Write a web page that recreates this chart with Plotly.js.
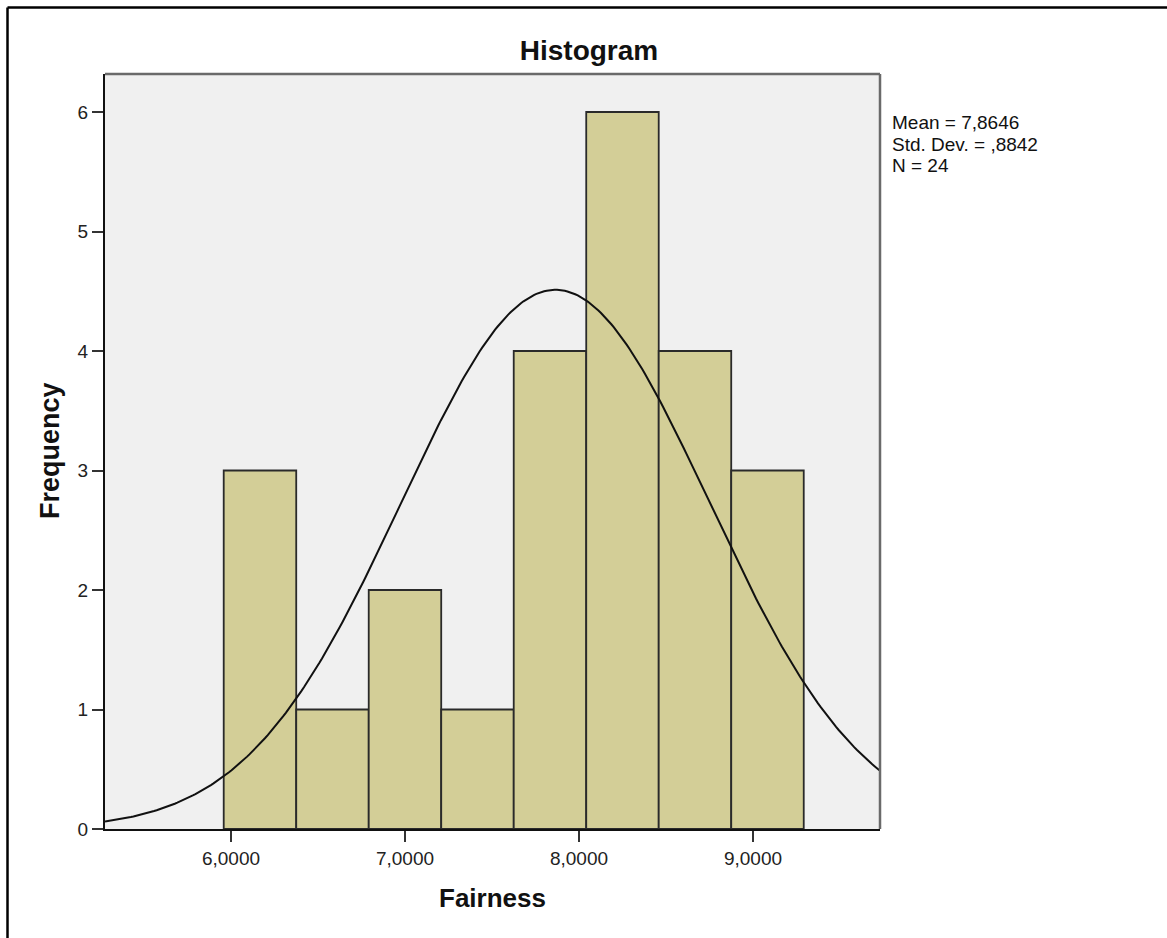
<!DOCTYPE html>
<html>
<head>
<meta charset="utf-8">
<script src="https://cdn.plot.ly/plotly-3.0.1.min.js"></script>
<style>
  html, body { margin: 0; padding: 0; background: #ffffff; }
  #chart { width: 1167px; height: 938px; }
</style>
</head>
<body>
<div id="chart"></div>
<script>
// ---- data ----
const binEdges = [5.9583, 6.3750, 6.7917, 7.2083, 7.6250, 8.0417, 8.4583, 8.8750, 9.2917];
const binCounts = [3, 1, 2, 1, 4, 6, 4, 3];
const xTickVals = [6, 7, 8, 9];
const xTickText = ["6,0000", "7,0000", "8,0000", "9,0000"];
const yTickVals = [0, 1, 2, 3, 4, 5, 6];
const statsMean = 7.8646;
const statsSD = 0.8842;
const statsN = 24;
const statsLines = ["Mean = 7,8646", "Std. Dev. = ,8842", "N = 24"];

// ---- build traces ----
const centers = [], widths = [];
for (let i = 0; i < binCounts.length; i++) {
  centers.push((binEdges[i] + binEdges[i + 1]) / 2);
  widths.push(binEdges[i + 1] - binEdges[i]);
}
const binWidth = (binEdges[binEdges.length - 1] - binEdges[0]) / binCounts.length;

const xRange = [5.276, 9.730];
const yRange = [0, 6.318];

// fitted normal curve (as drawn by the original): N * binWidth * pdf(mean, sd)
const curveX = [], curveY = [];
const steps = 300;
for (let k = 0; k <= steps; k++) {
  const x = xRange[0] + (xRange[1] - xRange[0]) * k / steps;
  const z = (x - statsMean) / statsSD;
  curveX.push(x);
  curveY.push(statsN * binWidth * Math.exp(-0.5 * z * z) / (statsSD * Math.sqrt(2 * Math.PI)));
}

const bars = {
  type: 'bar',
  x: centers,
  y: binCounts,
  width: widths,
  marker: { color: '#d3ce97', line: { color: '#2a2a2a', width: 1.8 } },
  hoverinfo: 'x+y',
  showlegend: false
};
const curve = {
  type: 'scatter',
  mode: 'lines',
  x: curveX,
  y: curveY,
  line: { color: '#111111', width: 2 },
  hoverinfo: 'skip',
  showlegend: false
};

// ---- layout (pixel geometry of the reference) ----
const W = 1167, H = 938;
const L = 105, R = 880, T = 74, B = 829;
const px = v => (v - L) / (R - L);
const py = v => (B - v) / (B - T);

const font = "Arial, 'Liberation Sans', sans-serif";

const annotations = [
  { text: '<b>Fairness</b>', xref: 'paper', yref: 'paper', x: px(492), y: py(898),
    xanchor: 'center', yanchor: 'middle', showarrow: false,
    font: { family: font, size: 26, color: '#111' } },
  { text: '<b>Frequency</b>', xref: 'paper', yref: 'paper', x: px(50), y: py(451),
    xanchor: 'center', yanchor: 'middle', showarrow: false, textangle: -90,
    font: { family: font, size: 27, color: '#111' } }
];
const statY = [123, 144, 165];
statsLines.forEach((t, i) => {
  annotations.push({ text: t, xref: 'paper', yref: 'paper', x: px(890), y: py(statY[i]),
    xanchor: 'left', yanchor: 'middle', showarrow: false,
    font: { family: font, size: 19, color: '#111' } });
});

const shapes = [
  // grey frame of the plot area (top and right)
  { type: 'line', xref: 'paper', yref: 'paper', x0: 0, x1: 1, y0: 1, y1: 1,
    line: { color: '#6a6a6a', width: 2.5 } },
  { type: 'line', xref: 'paper', yref: 'paper', x0: 1, x1: 1, y0: 0, y1: 1,
    line: { color: '#6a6a6a', width: 2.5 } },
  // outer page frame (left and top)
  { type: 'line', xref: 'paper', yref: 'paper', x0: px(7.5), x1: px(7.5), y0: py(H + 5), y1: py(7.5),
    line: { color: '#000', width: 2.5 } },
  { type: 'line', xref: 'paper', yref: 'paper', x0: px(7.5), x1: px(W + 5), y0: py(7.5), y1: py(7.5),
    line: { color: '#000', width: 2.5 } }
];

const layout = {
  width: W, height: H,
  margin: { l: L, r: W - R, t: T, b: H - B, pad: 0 },
  paper_bgcolor: '#ffffff',
  plot_bgcolor: '#f0f0f0',
  bargap: 0,
  title: { text: '<b>Histogram</b>', xref: 'container', yref: 'container',
           x: 589 / W, y: 1 - 50 / H, xanchor: 'center', yanchor: 'middle',
           font: { family: font, size: 28, color: '#111' } },
  xaxis: {
    range: xRange, tickmode: 'array', tickvals: xTickVals, ticktext: xTickText,
    showgrid: false, zeroline: false, showline: true, linecolor: '#111', linewidth: 2,
    ticks: 'outside', ticklen: 11, tickwidth: 2, tickcolor: '#333',
    tickfont: { family: font, size: 19, color: '#222' }, fixedrange: true
  },
  yaxis: {
    range: yRange, tickmode: 'array', tickvals: yTickVals,
    showgrid: false, zeroline: false, showline: true, linecolor: '#111', linewidth: 2,
    ticks: 'outside', ticklen: 11, tickwidth: 2, tickcolor: '#333',
    tickfont: { family: font, size: 19, color: '#222' }, fixedrange: true
  },
  annotations: annotations,
  shapes: shapes
};

Plotly.newPlot('chart', [bars, curve], layout, { displayModeBar: false, staticPlot: true });
</script>
</body>
</html>
